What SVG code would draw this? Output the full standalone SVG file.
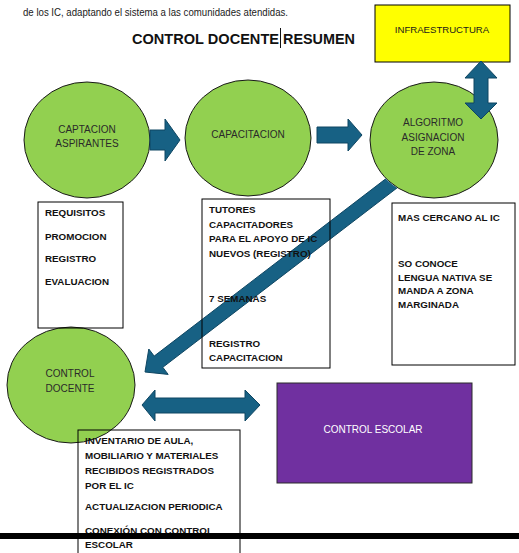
<svg xmlns="http://www.w3.org/2000/svg" width="519" height="553" viewBox="0 0 519 553">
<style>
  text { font-family: "Liberation Sans", Arial, sans-serif; fill: #1a1a1a; }
  .circ { fill: #92D050; stroke: #1a1a1a; stroke-width: 1; }
  .ctext { font-size: 10px; text-anchor: middle; fill: #2a2a2a; }
  .box { fill: none; stroke: #000; stroke-width: 1; }
  .btext { font-size: 9.8px; font-weight: bold; fill: #111; }
  .arrow { fill: #176184; stroke: #0F4662; stroke-width: 1; }
  .title { font-size: 15.5px; font-weight: bold; fill: #111; }
</style>
<defs>
  <mask id="c3mask" maskUnits="userSpaceOnUse" x="0" y="0" width="519" height="553">
    <rect x="0" y="0" width="519" height="553" fill="#fff"/>
    <ellipse cx="434" cy="140" rx="64.5" ry="58.5" fill="#000"/>
  </mask>
</defs>
<rect x="0" y="0" width="519" height="553" fill="#fff"/>

<g id="header">
  <text x="23" y="16" font-size="10.5" fill="#222" textLength="265" lengthAdjust="spacingAndGlyphs">de los IC, adaptando el sistema a las comunidades atendidas.</text>
  <text class="title" x="132" y="43.5" textLength="147" lengthAdjust="spacingAndGlyphs">CONTROL DOCENTE</text>
  <text class="title" x="283" y="43.5" textLength="72" lengthAdjust="spacingAndGlyphs">RESUMEN</text>
  <line x1="280.5" y1="28" x2="280.5" y2="48" stroke="#111" stroke-width="1"/>
</g>

<g id="infraestructura">
  <rect x="375" y="5" width="135" height="57" fill="#FFFF00" stroke="#000" stroke-width="1"/>
  <text x="442" y="33" font-size="9.6" text-anchor="middle" fill="#2a2a2a">INFRAESTRUCTURA</text>
</g>

<g id="captacion">
  <ellipse class="circ" cx="87" cy="140" rx="63" ry="58"/>
  <text class="ctext" x="87" y="133">CAPTACION</text>
  <text class="ctext" x="87" y="147">ASPIRANTES</text>
</g>

<g id="capacitacion">
  <ellipse class="circ" cx="248" cy="138" rx="63" ry="58"/>
  <text class="ctext" x="248" y="137.5">CAPACITACION</text>
</g>

<g id="algoritmo">
  <ellipse class="circ" cx="434" cy="140" rx="64" ry="58"/>
  <text class="ctext" x="433" y="125.5">ALGORITMO</text>
  <text class="ctext" x="433" y="140.5">ASIGNACION</text>
  <text class="ctext" x="433" y="154.5">DE ZONA</text>
</g>

<g id="control-docente">
  <ellipse class="circ" cx="71" cy="385" rx="64" ry="58"/>
  <text class="ctext" x="70" y="377">CONTROL</text>
  <text class="ctext" x="70" y="391.5">DOCENTE</text>
</g>

<g id="control-escolar">
  <rect x="277" y="383" width="195" height="100" fill="#7030A0" stroke="#2a2a2a" stroke-width="1"/>
  <text x="373" y="432.5" font-size="10" text-anchor="middle" style="fill:#fff">CONTROL ESCOLAR</text>
</g>

<g id="connectors">
  <polygon class="arrow" points="150,130 165,130 165,119 180,140 165,161 165,150 150,150"/>
  <polygon class="arrow" points="317,127 348,127 348,119 362,135 348,151 348,143 317,143"/>
  <polygon class="arrow" points="481,61 497,78 488,78 488,103 497,103 481,119 465,103 474,103 474,78 465,78"/>
  <polygon class="arrow" mask="url(#c3mask)" points="402.7,165.8 411.3,177 162.8,367.3 168.2,374.4 145,372 148.8,349 154.2,356.1"/>
  <polygon class="arrow" points="142,405 155,390 155,398 245,398 245,390 260,405 245,421 245,413 155,413 155,421"/>
</g>

<g id="requisitos">
  <rect class="box" x="38" y="202" width="85" height="126"/>
  <text class="btext" x="45" y="216">REQUISITOS</text>
  <text class="btext" x="45" y="239.5">PROMOCION</text>
  <text class="btext" x="45" y="261.5">REGISTRO</text>
  <text class="btext" x="45" y="284.5">EVALUACION</text>
</g>

<g id="tutores">
  <rect class="box" x="202" y="199" width="128" height="169"/>
  <text class="btext" x="209" y="213">TUTORES</text>
  <text class="btext" x="209" y="228">CAPACITADORES</text>
  <text class="btext" x="209" y="242">PARA EL APOYO DE IC</text>
  <text class="btext" x="209" y="257">NUEVOS (REGISTRO)</text>
  <text class="btext" x="209" y="302">7 SEMANAS</text>
  <text class="btext" x="209" y="347">REGISTRO</text>
  <text class="btext" x="209" y="361">CAPACITACION</text>
</g>

<g id="zona">
  <rect class="box" x="392" y="203" width="123" height="162"/>
  <text class="btext" x="398" y="221">MAS CERCANO AL IC</text>
  <text class="btext" x="398" y="267">SO CONOCE</text>
  <text class="btext" x="398" y="280.5">LENGUA NATIVA SE</text>
  <text class="btext" x="398" y="294">MANDA A ZONA</text>
  <text class="btext" x="398" y="308">MARGINADA</text>
</g>

<g id="inventario">
  <rect class="box" x="78" y="430" width="162" height="130"/>
  <text class="btext" x="85" y="444">INVENTARIO DE AULA,</text>
  <text class="btext" x="85" y="459">MOBILIARIO Y MATERIALES</text>
  <text class="btext" x="85" y="473.5">RECIBIDOS REGISTRADOS</text>
  <text class="btext" x="85" y="488.5">POR EL IC</text>
  <text class="btext" x="85" y="510">ACTUALIZACION PERIODICA</text>
  <text class="btext" x="85" y="533.5">CONEXIÓN CON CONTROL</text>
  <text class="btext" x="85" y="547.5">ESCOLAR</text>
</g>

<rect x="0" y="533" width="519" height="6" fill="#000"/>
</svg>
